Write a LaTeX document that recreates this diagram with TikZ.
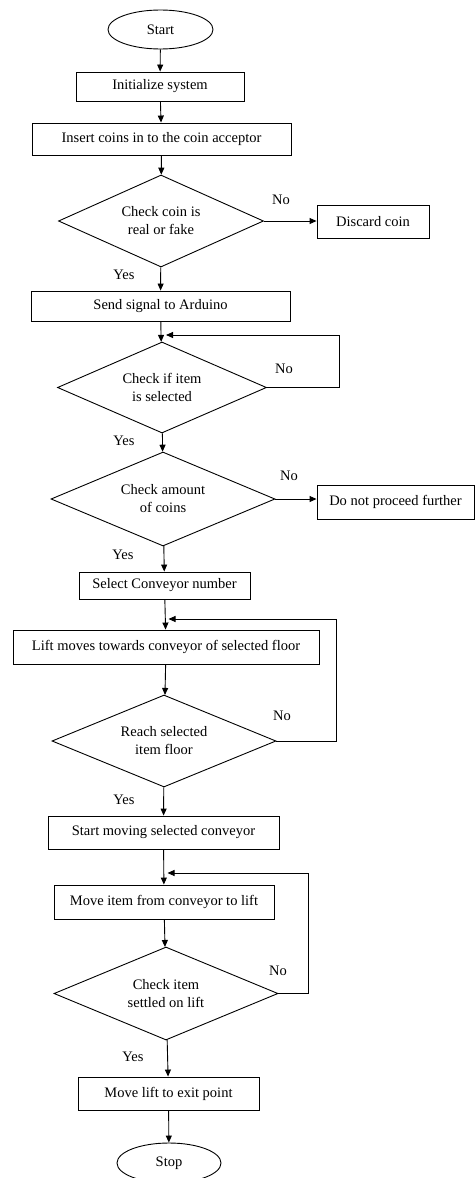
\documentclass[tikz,border=0pt]{standalone}
\usepackage{fontspec}
\setmainfont{Liberation Serif}
\usetikzlibrary{shapes.geometric,arrows.meta}
\begin{document}
\begin{tikzpicture}[x=1pt,y=-1pt,
  every node/.style={font=\fontsize{14.5}{18}\selectfont, inner sep=0pt},
  proc/.style={draw, line width=0.9pt, rectangle, align=center},
  term/.style={draw, line width=0.9pt, ellipse},
  decide/.style={draw, line width=0.9pt, diamond, aspect=2.4, align=center},
  lbl/.style={},
  arr/.style={line width=0.9pt, -{Triangle[length=7pt,width=6pt]}},
  loopline/.style={arr, shorten >=4pt}]
\useasboundingbox (0,0) rectangle (475,1178);

% main column
\node[term, minimum width=105pt, minimum height=39pt] (start) at (160.5,29.5) {Start};
\node[proc, minimum width=168pt, minimum height=29pt] (init) at (160,86.5) {Initialize system};
\node[proc, minimum width=259pt, minimum height=32pt] (insert) at (161.5,139) {Insert coins in to the coin acceptor};
\node[decide, minimum width=205pt, minimum height=92pt] (d1) at (161,221) {Check coin is\\real or fake};
\node[proc, minimum width=112pt, minimum height=33pt] (discard) at (373,221.5) {Discard coin};
\node[proc, minimum width=259pt, minimum height=30pt] (send) at (160.5,306) {Send signal to Arduino};
\node[decide, minimum width=209pt, minimum height=91pt] (d2) at (162,387.5) {Check if item\\is selected};
\node[decide, minimum width=224pt, minimum height=94pt] (d3) at (163,499) {Check amount\\of coins};
\node[proc, minimum width=157pt, minimum height=34pt] (noproc) at (395.5,502) {Do not proceed further};
\node[proc, minimum width=171pt, minimum height=27pt] (select) at (164.5,585.5) {Select Conveyor number};
\node[proc, minimum width=306pt, minimum height=34pt] (lift) at (166,647) {Lift moves towards conveyor of selected floor};
\node[decide, minimum width=224pt, minimum height=92pt] (d4) at (164,741) {Reach selected\\item floor};
\node[proc, minimum width=231pt, minimum height=33pt] (startmv) at (163.5,832.5) {Start moving selected conveyor};
\node[proc, minimum width=220pt, minimum height=34pt] (moveitem) at (164,902) {Move item from conveyor to lift};
\node[decide, minimum width=224pt, minimum height=93pt] (d5) at (166,993.5) {Check item\\settled on lift};
\node[proc, minimum width=181pt, minimum height=33pt] (movelift) at (168.5,1093.5) {Move lift to exit point};
\node[term, minimum width=104pt, minimum height=40pt] (stop) at (169,1163) {Stop};

% branch labels
\node[lbl] (no1) at (281,200) {No};
\node[lbl] (yes1) at (124,275) {Yes};
\node[lbl] (no2) at (284,369) {No};
\node[lbl] (yes2) at (124,441) {Yes};
\node[lbl] (no3) at (289,476) {No};
\node[lbl] (yes3) at (123,555) {Yes};
\node[lbl] (no4) at (282,716) {No};
\node[lbl] (yes4) at (124,800) {Yes};
\node[lbl] (no5) at (278,971) {No};
\node[lbl] (yes5) at (133,1057) {Yes};

% forward flow
\draw[arr] (start) -- (init);
\draw[arr] (init) -- (insert);
\draw[arr] (insert) -- (d1);
\draw[arr] (d1.east) -- (d1.east -| discard.west);
\draw[arr] (d1) -- (send);
\draw[arr] (send) -- (d2);
\draw[arr] (d2) -- (d3);
\draw[arr] (d3.east) -- (d3.east -| noproc.west);
\draw[arr] (d3) -- (select);
\draw[arr] (select) -- (lift);
\draw[arr] (lift) -- (d4);
\draw[arr] (d4) -- (startmv);
\draw[arr] (startmv) -- (moveitem);
\draw[arr] (moveitem) -- (d5);
\draw[arr] (d5) -- (movelift);
\draw[arr] (movelift) -- (stop);

% retry loops
\coordinate (c2) at (339,335);
\draw[loopline] (d2.east) -| (c2) -- (c2 -| d2.north);
\coordinate (c4) at (336,619);
\draw[loopline] (d4.east) -| (c4) -- (c4 -| select.south);
\coordinate (c5) at (308,873);
\draw[loopline] (d5.east) -| (c5) -- (c5 -| startmv.south);
\end{tikzpicture}
\end{document}
